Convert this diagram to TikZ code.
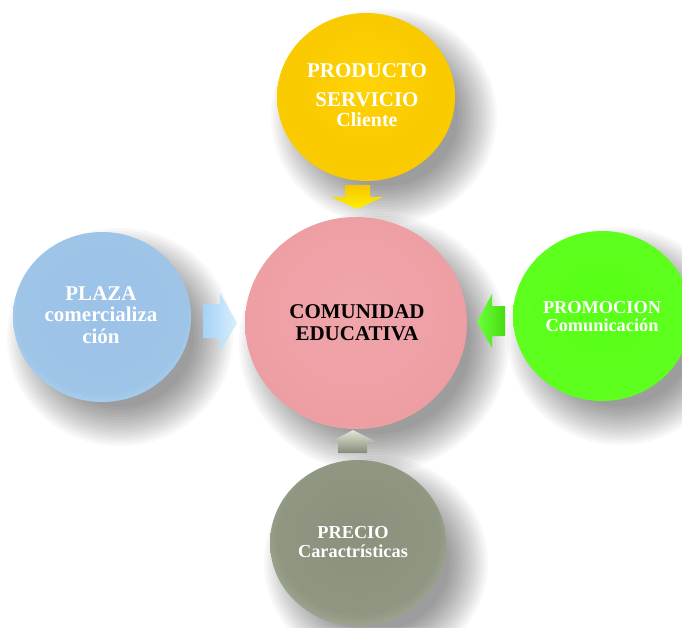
\documentclass[tikz,border=0pt]{standalone}
\usepackage{fontspec}
\setmainfont{Liberation Serif}
\usetikzlibrary{shapes.geometric}

% glossy radial fills for the five discs; the disc edge sits near 35bp
\pgfdeclareradialshading{orbyellow}{\pgfpoint{0bp}{5bp}}{rgb(0bp)=(1,0.83,0.02); rgb(20bp)=(0.98,0.79,0.0); rgb(29bp)=(0.98,0.80,0.0); rgb(35bp)=(1,0.93,0.0); rgb(50bp)=(1,0.93,0.0)}
\pgfdeclareradialshading{orbpink}{\pgfpoint{0bp}{4bp}}{rgb(0bp)=(0.94,0.65,0.67); rgb(26bp)=(0.93,0.62,0.64); rgb(35bp)=(0.96,0.73,0.75); rgb(50bp)=(0.96,0.73,0.75)}
\pgfdeclareradialshading{orbblue}{\pgfpoint{0bp}{3bp}}{rgb(0bp)=(0.61,0.76,0.91); rgb(24bp)=(0.62,0.77,0.91); rgb(31bp)=(0.71,0.87,0.97); rgb(35bp)=(0.85,0.96,1); rgb(50bp)=(0.85,0.96,1)}
\pgfdeclareradialshading{orbgreen}{\pgfpoint{0bp}{3bp}}{rgb(0bp)=(0.34,1,0.08); rgb(26bp)=(0.37,1,0.12); rgb(35bp)=(0.50,1,0.33); rgb(50bp)=(0.50,1,0.33)}
\pgfdeclareradialshading{orbgray}{\pgfpoint{0bp}{3bp}}{rgb(0bp)=(0.54,0.57,0.49); rgb(23bp)=(0.56,0.59,0.51); rgb(30bp)=(0.67,0.70,0.61); rgb(35bp)=(0.84,0.86,0.78); rgb(50bp)=(0.84,0.86,0.78)}

\definecolor{arrYellowA}{HTML}{F7C600}
\definecolor{arrYellowB}{HTML}{FFF000}
\definecolor{arrBlueA}{HTML}{A6D2F6}
\definecolor{arrBlueB}{HTML}{D6F0FD}
\definecolor{arrGreenA}{HTML}{6CFF3A}
\definecolor{arrGreenB}{HTML}{46DD12}
\definecolor{arrGrayA}{HTML}{E2E6D4}
\definecolor{arrGrayB}{HTML}{858B7A}

\tikzset{
  orb/.style={ellipse, inner sep=0pt, draw=none},
  orblabel/.style={align=center, inner sep=0pt, font=\bfseries},
}

% soft shadow: stacked translucent ellipses, offset down and to the right
\newcommand\orbshadow[4]{%
  \foreach \k in {0,...,15}{%
    \fill[black,opacity=0.027] (#1+18,#2+20) ellipse
      [x radius={(#3+24-2.6*\k)*1pt}, y radius={(#4+24-2.6*\k)*1pt}];
  }}

\begin{document}
\begin{tikzpicture}[x=1pt,y=-1pt]
  \useasboundingbox (0,0) rectangle (682,627);
  \fill[white] (0,0) rectangle (682,627);

  % shadows
  \orbshadow{366}{97}{89}{84}
  \orbshadow{102}{317}{89}{85}
  \orbshadow{356}{323}{111}{106}
  \orbshadow{602}{316}{89}{85}
  \orbshadow{358}{543}{88}{83}

  % discs
  \node[orb, shading=orbyellow, minimum width=178pt, minimum height=168pt] (producto) at (366,97) {};
  \node[orb, shading=orbblue,   minimum width=178pt, minimum height=170pt] (plaza)    at (102,317) {};
  \node[orb, shading=orbpink,   minimum width=222pt, minimum height=212pt] (comunidad) at (356,323) {};
  \node[orb, shading=orbgreen,  minimum width=178pt, minimum height=170pt] (promocion) at (602,316) {};
  \node[orb, shading=orbgray,   minimum width=176pt, minimum height=166pt] (precio)   at (358,543) {};

  % block arrows pointing at the centre disc
  \shade[top color=arrYellowA, bottom color=arrYellowB]
    (345,185) -- (370,185) -- (370,197) -- (383,197) -- (357,209) -- (331,197) -- (345,197) -- cycle;
  \shade[left color=arrBlueA, right color=arrBlueB]
    (203,304) -- (220,304) -- (220,293) -- (237,323) -- (220,352) -- (220,338) -- (203,338) -- cycle;
  \shade[left color=arrGreenA, right color=arrGreenB]
    (505,306) -- (492,306) -- (492,294) -- (477,322) -- (492,348) -- (492,336) -- (505,336) -- cycle;
  \shade[top color=arrGrayA, bottom color=arrGrayB]
    (338,453) -- (338,442) -- (330,442) -- (353,430) -- (377,442) -- (367,442) -- (367,453) -- cycle;

  % labels
  \node[orblabel, text=white, font=\bfseries\fontsize{21}{20}\selectfont] (productotxt) at (367,95)
    {PRODUCTO\\[9pt]SERVICIO\\{\fontsize{20}{20}\selectfont Cliente}};
  \node[orblabel, text=white, font=\bfseries\fontsize{21}{21.5}\selectfont] (plazatxt) at (101,315)
    {PLAZA\\comercializa\\ción};
  \node[orblabel, text=black, font=\bfseries\fontsize{21}{22}\selectfont] (comunidadtxt) at (357,323)
    {COMUNIDAD\\EDUCATIVA};
  \node[orblabel, text=white, font=\bfseries\fontsize{18.3}{18}\selectfont] (promociontxt) at (602,317)
    {PROMOCION\\Comunicación};
  \node[orblabel, text=white, font=\bfseries\fontsize{18.3}{19}\selectfont] (preciotxt) at (353,542)
    {PRECIO\\Caractrísticas};
\end{tikzpicture}
\end{document}
